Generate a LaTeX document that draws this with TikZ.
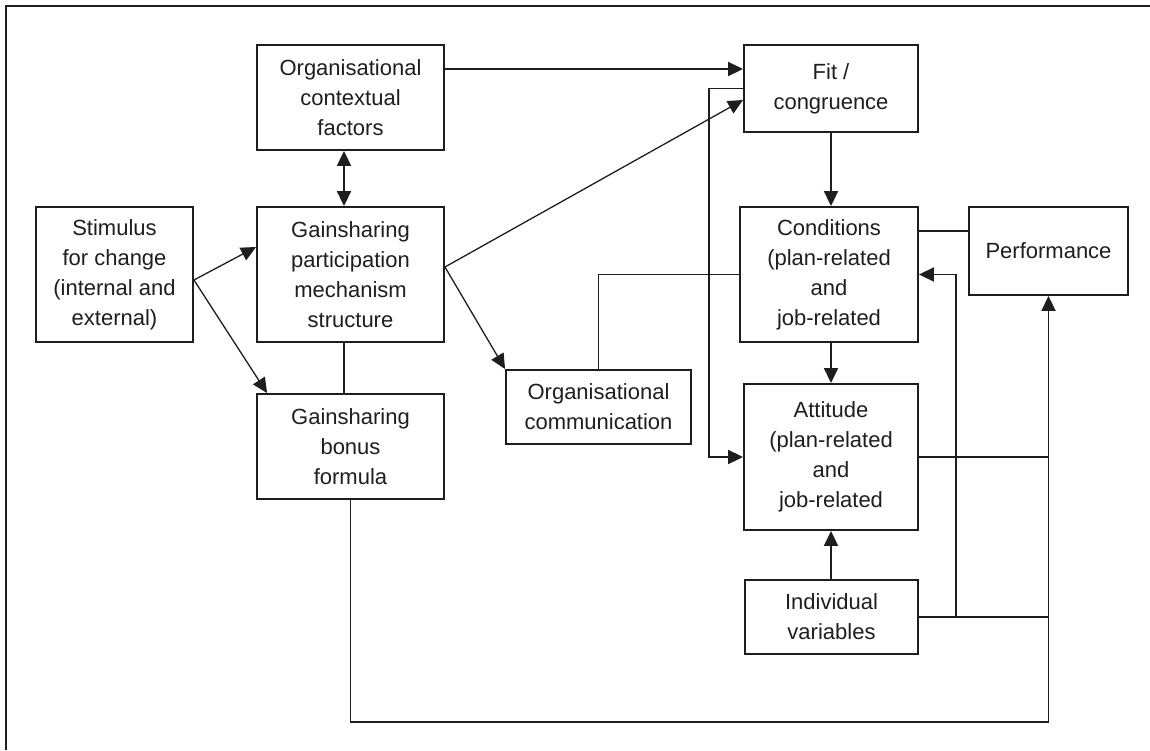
\documentclass[tikz,border=0pt]{standalone}
\usepackage{fontspec}
\setmainfont{Liberation Sans}
\usetikzlibrary{arrows.meta}
\definecolor{ink}{HTML}{1E1E1E}
\tikzset{
  box/.style={draw=ink, line width=1.9pt, align=center, inner sep=0pt,
    text=ink, font=\fontsize{22}{30}\selectfont},
  link/.style={draw=ink, line width=1.9pt},
  arr/.style={link, -{Triangle[length=15pt,width=14pt]}},
  twoarr/.style={link, {Triangle[length=15pt,width=14pt]}-{Triangle[length=15pt,width=14pt]}},
  thinarr/.style={arr, line width=1.3pt}
}
\begin{document}
\begin{tikzpicture}[x=1pt,y=-1pt]
\useasboundingbox (0,0) rectangle (1150,750);
% outer frame (top and left edges)
\draw[ink, line width=2.2pt] (1150,6) -- (6,6) -- (6,750);

% boxes
\node[box, minimum width=157pt, minimum height=135pt] (stim) at (114.5,274.5)
  {Stimulus\\for change\\(internal and\\external)};
\node[box, minimum width=187pt, minimum height=105pt] (ctx) at (350.5,97.5)
  {Organisational\\contextual\\factors};
\node[box, minimum width=187pt, minimum height=135pt] (gp) at (350.5,274.5)
  {Gainsharing\\participation\\mechanism\\structure};
\node[box, minimum width=187pt, minimum height=105pt] (gb) at (350.5,446.5)
  {Gainsharing\\bonus\\formula};
\node[box, minimum width=185pt, minimum height=74pt] (comm) at (598.5,407)
  {Organisational\\communication};
\node[box, minimum width=174pt, minimum height=87pt] (fit) at (831,88.5)
  {Fit /\\congruence};
\node[box, minimum width=178pt, minimum height=135pt] (cond) at (829,274.5)
  {Conditions\\(plan-related\\and\\job-related};
\node[box, minimum width=159pt, minimum height=88pt] (perf) at (1048.5,251)
  {Performance};
\node[box, minimum width=174pt, minimum height=146pt] (att) at (831,457)
  {Attitude\\(plan-related\\and\\job-related};
\node[box, minimum width=173pt, minimum height=74pt] (ind) at (831.5,617)
  {Individual\\variables};

% helper levels and columns
\coordinate (r69) at (0,69);
\coordinate (r100) at (0,100);
\coordinate (r231) at (0,231);
\coordinate (r247) at (0,247);
\coordinate (r267) at (0,267);
\coordinate (r280) at (0,280);
\coordinate (r722) at (0,722);
\coordinate (c344) at (344,0);
\coordinate (c709) at (709,0);
\coordinate (c956) at (956,0);

% connectors
\draw[arr] (ctx.east |- r69) -- (fit.west |- r69);
\draw[arr] (fit.west) -| (c709 |- att.west) -- (att.west);
\draw[thinarr] (gp.east |- r267) -- (fit.west |- r100);
\draw[thinarr] (gp.east |- r267) -- (comm.north west);
\draw[thinarr] (stim.east |- r280) -- (gp.west |- r247);
\draw[thinarr] (stim.east |- r280) -- ([xshift=11pt]gb.north west);
\draw[twoarr] (c344 |- ctx.south) -- (c344 |- gp.north);
\draw[link] (c344 |- gp.south) -- (c344 |- gb.north);
\draw[arr] (gb.south) |- (perf.south |- r722) -- (perf.south);
\draw[link] (comm.north) |- (cond.west);
\draw[arr] (fit.south) -- (fit.south |- cond.north);
\draw[arr] (att.north |- cond.south) -- (att.north);
\draw[link] (cond.east |- r231) -- (perf.west |- r231);
\draw[arr] (att.south |- ind.north) -- (att.south);
\draw[link] (ind.east) -- (perf.south |- ind.east);
\draw[arr] (c956 |- ind.east) |- (cond.east);
\draw[link] (att.east) -- (perf.south |- att.east);
\end{tikzpicture}
\end{document}
